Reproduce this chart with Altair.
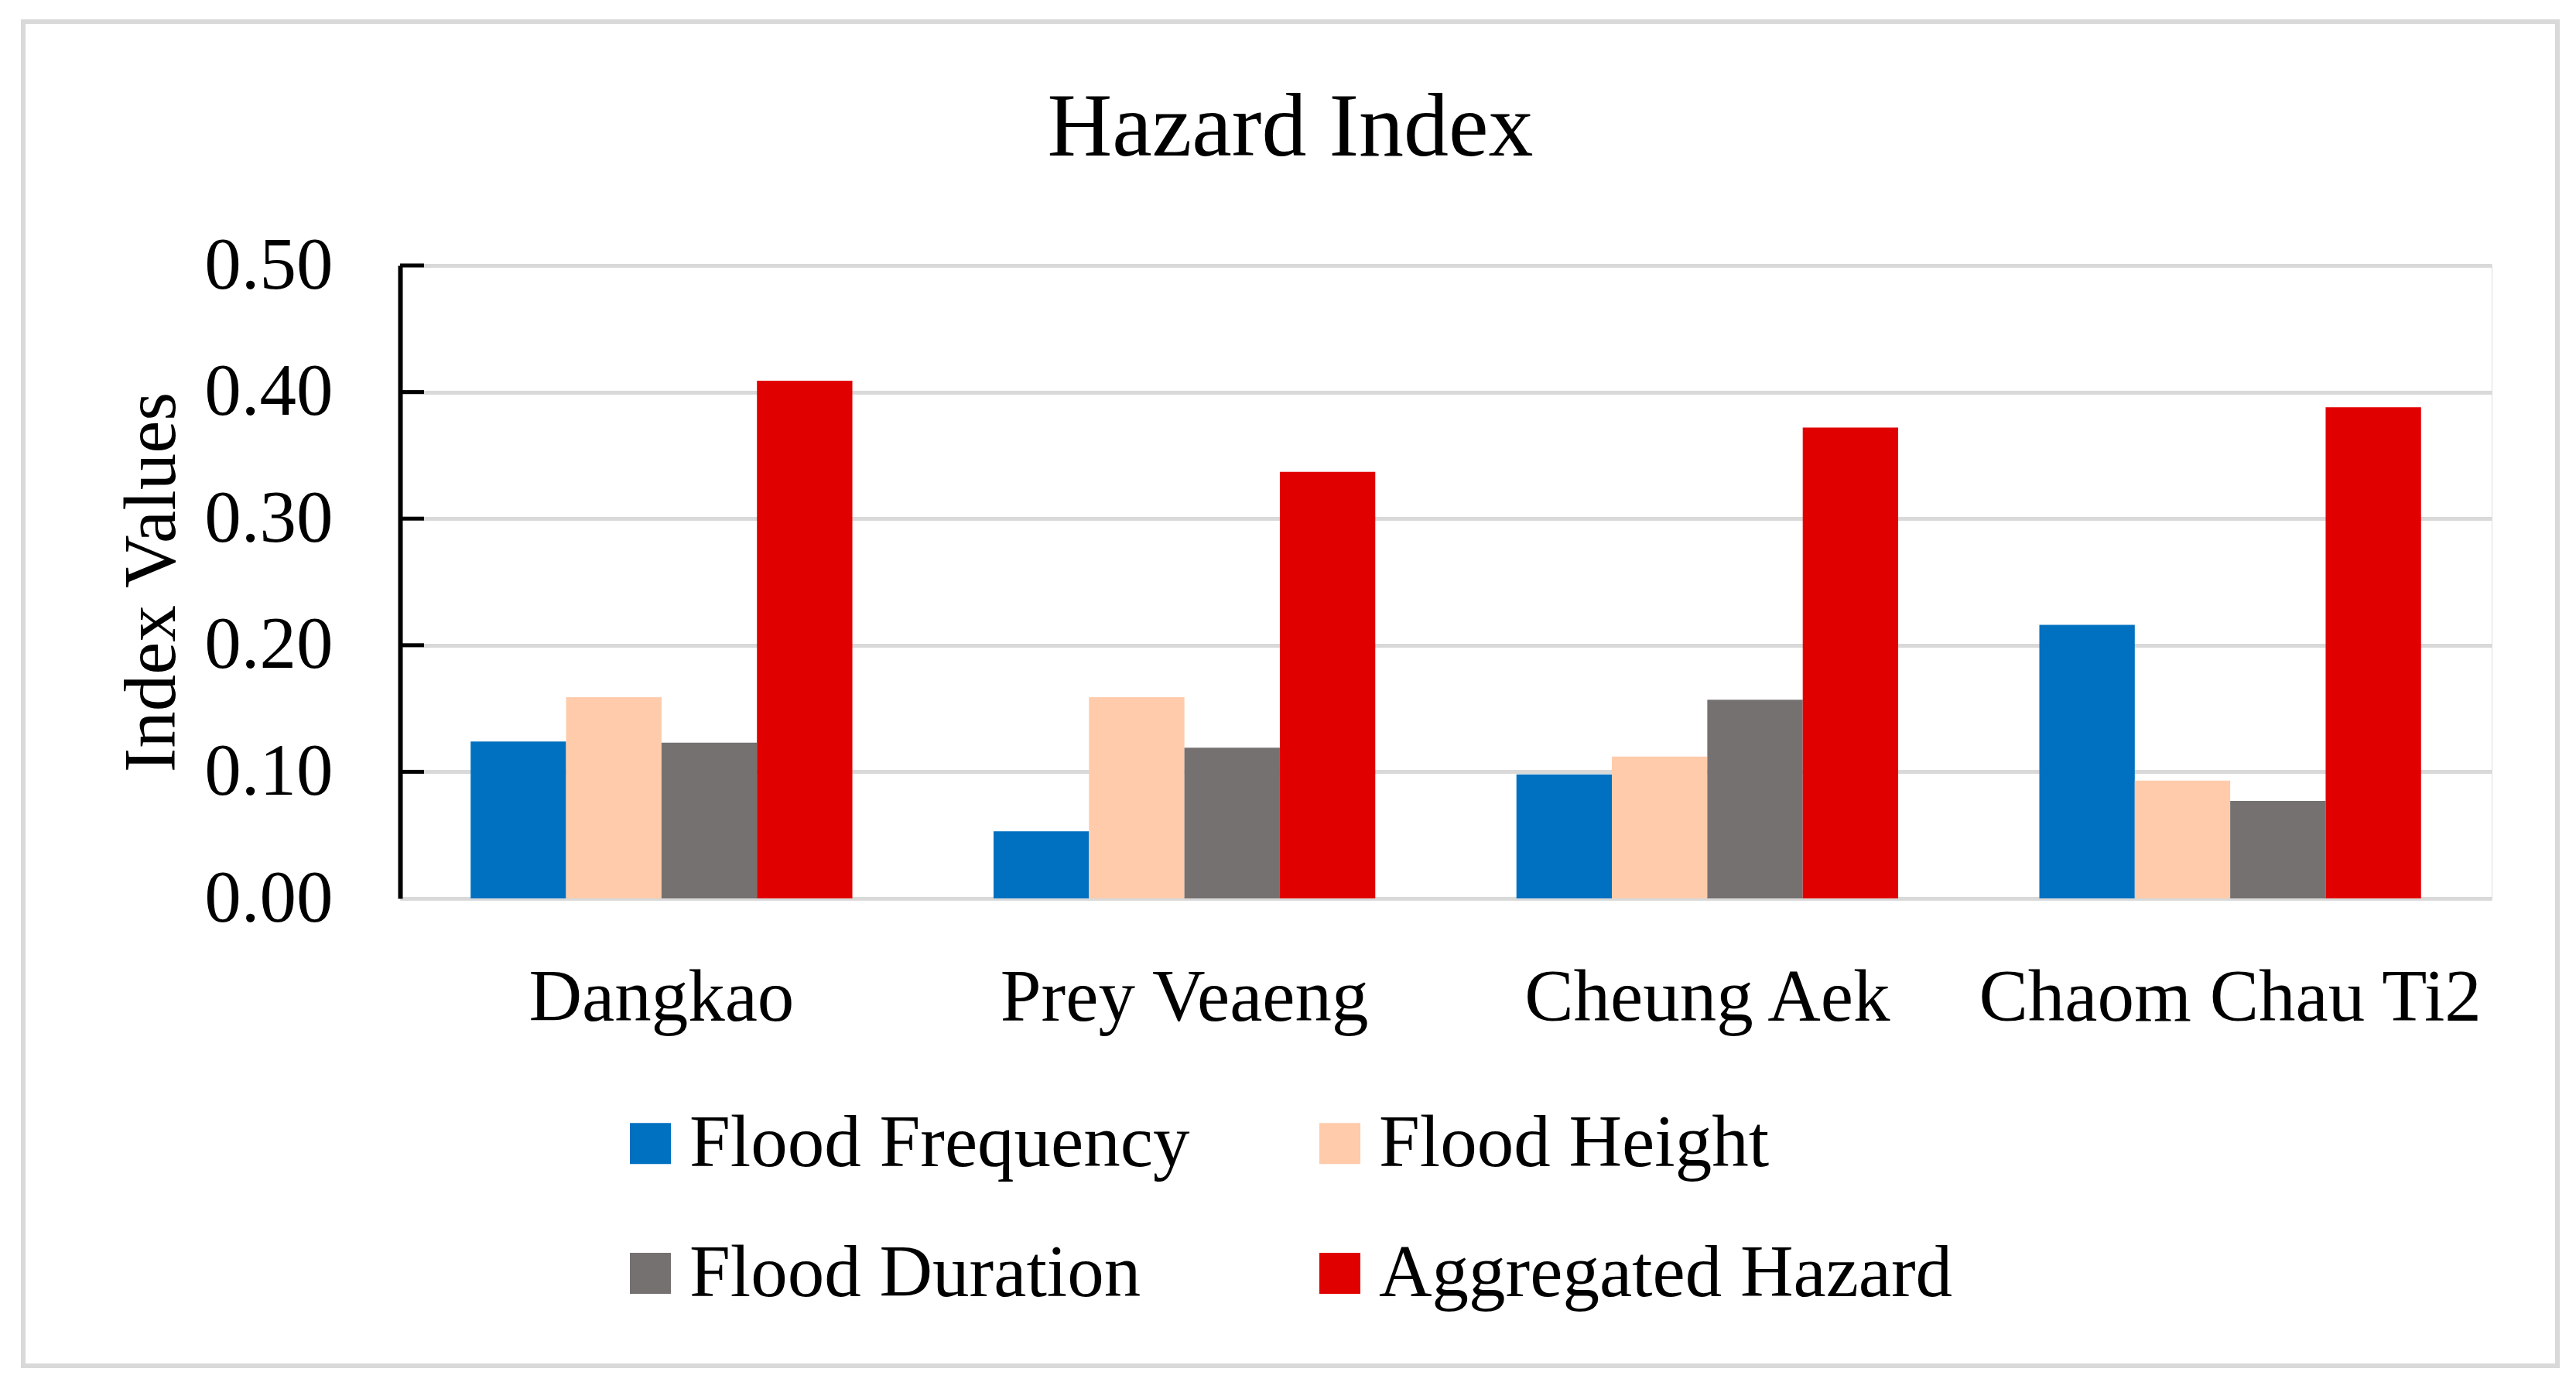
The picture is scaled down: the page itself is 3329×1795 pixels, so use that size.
import pandas as pd
import altair as alt

# values
districts = ["Dangkao", "Prey Veaeng", "Cheung Aek", "Chaom Chau Ti2"]
series = ["Flood Frequency", "Flood Height", "Flood Duration", "Aggregated Hazard"]
flood_frequency = [0.124, 0.053, 0.098, 0.216]
flood_height = [0.159, 0.159, 0.112, 0.093]
flood_duration = [0.123, 0.119, 0.157, 0.077]
aggregated_hazard = [0.409, 0.337, 0.372, 0.388]
y_ticks = [0.0, 0.1, 0.2, 0.3, 0.4, 0.5]
colors = ["#0070C0", "#FFCBAA", "#767171", "#E00000"]

FONT = "Liberation Serif"
GRID = "#d9d9d9"
SIZE = 95

rows = []
for name, vals in zip(series, [flood_frequency, flood_height, flood_duration, aggregated_hazard]):
    for d, v in zip(districts, vals):
        rows.append({"district": d, "series": name, "value": v})
df = pd.DataFrame(rows)

y_axis = alt.Axis(values=y_ticks, format=".2f", title="Index Values",
                  titleFont=FONT, titleFontSize=SIZE, titleFontWeight="normal",
                  titleColor="black", titleAngle=270, titleX=-292, titleY=409,
                  titleAlign="center", titleBaseline="alphabetic",
                  labelFont=FONT, labelFontSize=SIZE, labelColor="black",
                  labelPadding=87, ticks=False, tickSize=0,
                  domainColor="black", domainWidth=6,
                  gridColor=GRID, gridWidth=5)

bars = alt.Chart(df).mark_bar(strokeWidth=0).encode(
    x=alt.X("district:N", sort=districts, title=None,
            scale=alt.Scale(paddingInner=0.27, paddingOuter=0.135),
            axis=alt.Axis(labelFont=FONT, labelFontSize=SIZE, labelColor="black", labelAngle=0,
                          labelPadding=157, labelBaseline="alphabetic", labelLimit=1000,
                          ticks=False, tickSize=0, grid=False,
                          domainColor=GRID, domainWidth=5)),
    xOffset=alt.XOffset("series:N", sort=series,
                        scale=alt.Scale(paddingInner=0, paddingOuter=0)),
    y=alt.Y("value:Q", scale=alt.Scale(domain=[0, 0.5]), axis=y_axis),
    color=alt.Color("series:N", sort=series,
                    scale=alt.Scale(domain=series, range=colors),
                    legend=alt.Legend(title=None, orient="none", legendX=276, legendY=1087,
                                      direction="horizontal", columns=2,
                                      columnPadding=146, rowPadding=72, padding=0,
                                      symbolType="square", symbolSize=2809,
                                      symbolStrokeWidth=0, symbolOpacity=1,
                                      labelFont=FONT, labelFontSize=SIZE, labelColor="black",
                                      labelOffset=3, labelLimit=1000)),
)

# inward tick marks on the value axis
tick_df = pd.DataFrame({"tick": y_ticks[1:]})
ticks = alt.Chart(tick_df).mark_rule(color="black", strokeWidth=5).encode(
    y=alt.Y("tick:Q", axis=y_axis),
    x=alt.value(0),
    x2=alt.value(31),
)

# light grey frame around the whole figure
frame = alt.Chart(pd.DataFrame({"f": [1]})).mark_rect(
    fillOpacity=0, stroke=GRID, strokeWidth=6
).encode(
    x=alt.value(-487), x2=alt.value(2788),
    y=alt.value(-315), y2=alt.value(1422),
)

chart = alt.layer(frame, bars, ticks).properties(
    width=2703,
    height=818,
    title=alt.TitleParams("Hazard Index", font=FONT, fontSize=116, fontWeight="normal",
                          color="black", anchor="middle", dx=-201, offset=-292,
                          baseline="alphabetic", limit=2000),
    padding={"left": 509, "top": 335, "right": 101, "bottom": 620},
    autosize=alt.AutoSizeParams(type="none"),
).configure_view(strokeWidth=0).configure(background="white")

chart.save("out.html", embed_options={"renderer": "svg", "actions": False})
